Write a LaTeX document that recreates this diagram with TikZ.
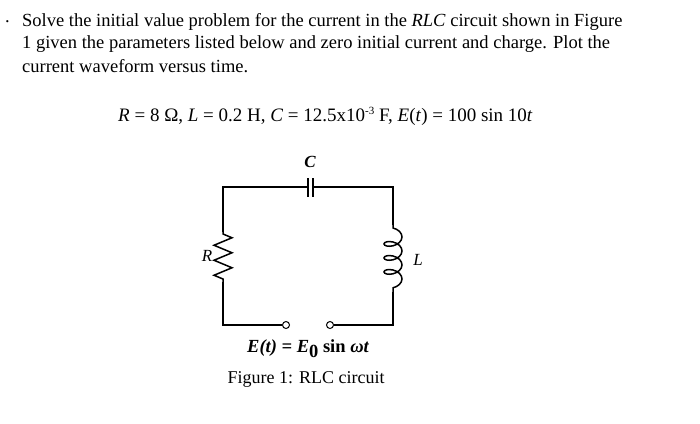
\documentclass[tikz,border=0pt]{standalone}
\usepackage{fontspec}
\setmainfont{Liberation Serif}
\usetikzlibrary{decorations.pathmorphing}
\begin{document}
\begin{tikzpicture}[x=1pt,y=-1pt,
  txt/.style={anchor=west,inner sep=0pt,font=\fontsize{18.5}{20}\selectfont},
  lbl/.style={inner sep=0pt,font=\fontsize{17}{19}\selectfont\bfseries\itshape},
  wire/.style={line width=1.5pt},
  term/.style={circle,draw,line width=1pt,inner sep=0pt,minimum size=7pt,fill=white}]
\useasboundingbox[fill=white] (0,0) rectangle (700,423);
\node[txt] (dot) at (5,22) {.};
\node[txt] (l1) at (22,22) {Solve the initial value problem for the current in the \textit{RLC} circuit shown in Figure};
\node[txt] (l2) at (22,44) {1 given the parameters listed below and zero initial current and charge. Plot the};
\node[txt] (l3) at (22,66) {current waveform versus time.};
\node[txt,font=\fontsize{19}{20}\selectfont] (eq) at (118,116) {\textit{R} = 8 Ω, \textit{L} = 0.2 H, \textit{C} = 12.5x10\raisebox{7pt}{\fontsize{11}{11}\selectfont -3} F, \textit{E}(\textit{t}) = 100 sin 10\textit{t}};
\coordinate (tl) at (223,187); \coordinate (tr) at (393,187);
\coordinate (bl) at (223,325); \coordinate (br) at (393,325);
\coordinate (c1) at (308,187); \coordinate (c2) at (313,187);
\coordinate (r1) at (223,232); \coordinate (r2) at (223,282);
\coordinate (i1) at (393,225); \coordinate (i2) at (393,292);
\node[term] (ta) at (286,325) {};
\node[term] (tb) at (330,325) {};
\draw[wire] (r1) -- (tl) -- (c1);
\draw[wire] (c1 |- 0,178) -- (c1 |- 0,197);
\draw[wire] (c2 |- 0,178) -- (c2 |- 0,197);
\draw[wire] (c2) -- (tr) -- (i1);
\draw[wire] (i2) -- (br) -- (tb);
\draw[wire] (ta) -- (bl) -- (r2);
\draw[wire,decorate,decoration={zigzag,segment length=15pt,amplitude=9pt,pre length=2pt,post length=3pt}] (r1) -- (r2);
\draw[wire,decorate,decoration={coil,segment length=14pt,amplitude=9pt,aspect=0.6,pre length=3pt,post length=3pt}] (i1) -- (i2);
\node[lbl] (C) at (310,162) {C};
\node[lbl,font=\fontsize{17}{19}\selectfont\itshape] (R) at (207,256) {R};
\node[lbl,font=\fontsize{17}{19}\selectfont\itshape] (L) at (418,260) {L};
\node[lbl,font=\fontsize{18.5}{20}\selectfont\bfseries\itshape] (E) at (308,349) {E(t) = E\raisebox{-5pt}{\upshape 0} \upshape sin \itshape ωt};
\node[inner sep=0pt,font=\fontsize{18}{20}\selectfont] (fig) at (306,379) {Figure 1: RLC circuit};
\end{tikzpicture}
\end{document}
